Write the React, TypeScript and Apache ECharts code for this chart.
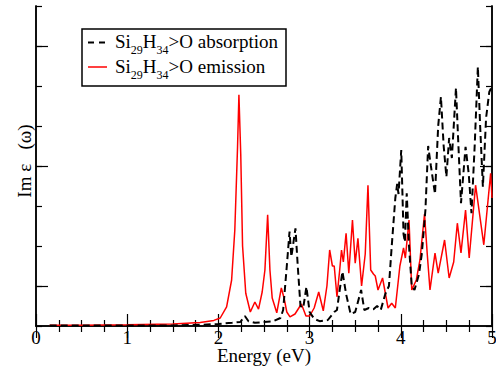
import { useEffect, useRef } from "react";
import * as echarts from "echarts";

const FONT = "'Liberation Serif', 'Times New Roman', Times, serif";

// Emission (red, solid)
const emissionEnergy = [
  0.15, 0.5, 1.0, 1.5, 1.8, 1.95, 2.02, 2.09, 2.145, 2.18, 2.21, 2.225, 2.245, 2.265, 2.3, 2.35, 2.4, 2.44,
  2.48, 2.51, 2.54, 2.565, 2.59, 2.64, 2.69, 2.72, 2.75, 2.785, 2.84, 2.91, 2.96, 3.0, 3.05, 3.1, 3.15, 3.19,
  3.22, 3.25, 3.27, 3.3, 3.33, 3.35, 3.37, 3.4, 3.43, 3.47, 3.5, 3.53, 3.57, 3.61, 3.64, 3.67, 3.7, 3.72,
  3.75, 3.8, 3.86, 3.9, 3.94, 3.99, 4.03, 4.05, 4.09, 4.12, 4.17, 4.21, 4.26, 4.29, 4.32, 4.36, 4.375, 4.41,
  4.48, 4.53, 4.58, 4.62, 4.66, 4.71, 4.75, 4.82, 4.91, 4.985, 5.0,
];
const emissionIm = [
  0.02, 0.02, 0.03, 0.05, 0.09, 0.14, 0.2, 0.48, 1.15, 2.4, 4.48, 5.78, 4.3, 2.0, 0.82, 0.35, 0.6, 0.42,
  0.85, 1.4, 2.78, 1.4, 0.7, 0.33, 0.95, 0.7, 0.35, 0.23, 0.3, 0.55, 0.25, 0.25, 0.45, 0.85, 0.38, 1.0,
  1.9, 1.5, 1.5, 0.73, 1.4, 1.9, 1.6, 2.32, 1.32, 2.65, 1.57, 2.19, 1.0, 1.8, 3.52, 1.4, 1.3, 1.25,
  0.9, 1.2, 0.45, 0.57, 0.45, 1.5, 1.95, 1.7, 2.65, 0.9, 1.15, 1.65, 2.8, 1.8, 0.9, 1.57, 1.82, 1.32,
  2.15, 1.2, 1.6, 2.57, 1.83, 2.9, 1.7, 3.52, 2.03, 3.82, 3.2,
];

// Absorption (black, dashed)
const absorptionEnergy = [
  0.15, 1.0, 1.5, 1.8, 2.0, 2.15, 2.24, 2.29, 2.33, 2.4, 2.5, 2.6, 2.68, 2.71, 2.75, 2.78, 2.8, 2.845,
  2.87, 2.9, 2.93, 2.965, 3.0, 3.05, 3.11, 3.2, 3.27, 3.3, 3.33, 3.36, 3.4, 3.45, 3.5, 3.565, 3.6, 3.65,
  3.7, 3.74, 3.78, 3.83, 3.87, 3.9, 3.94, 3.96, 3.975, 4.005, 4.03, 4.045, 4.065, 4.09, 4.12, 4.15, 4.2,
  4.23, 4.27, 4.3, 4.33, 4.375, 4.41, 4.44, 4.47, 4.5, 4.53, 4.56, 4.605, 4.63, 4.66, 4.71, 4.745, 4.775,
  4.81, 4.845, 4.87, 4.9, 4.935, 4.97, 5.0,
];
const absorptionIm = [
  0.01, 0.01, 0.015, 0.03, 0.05, 0.08, 0.1, 0.25, 0.12, 0.08, 0.1, 0.12, 0.2, 0.4, 1.5, 2.36, 1.73, 2.44,
  1.5, 0.5, 0.45, 0.98, 0.35, 0.18, 0.12, 0.15, 0.35, 0.4, 0.9, 1.36, 0.8, 0.3, 0.35, 0.9, 0.4, 0.45,
  0.42, 0.5, 0.4, 0.8, 1.0, 1.98, 3.2, 3.55, 3.3, 4.4, 2.3, 2.1, 3.32, 2.0, 1.0, 0.9, 1.3,
  1.8, 2.9, 4.5, 4.0, 3.3, 5.0, 5.73, 4.5, 3.73, 4.7, 4.2, 5.95, 4.6, 3.07, 4.48, 3.8, 2.82,
  4.5, 6.48, 5.0, 3.48, 5.2, 5.85, 6.0,
];

const xTickValues = [0, 1, 2, 3, 4, 5];
const yMajorTicks = [1, 4, 7];

const xLabel = "Energy (eV)";
const yLabel = "Im ε\u00a0\u00a0 (ω)";
// legend pieces: [text, isSubscript]
const absorptionPieces: [string, boolean][] = [["Si", false], ["29", true], ["H", false], ["34", true], [">O absorption", false]];
const emissionPieces: [string, boolean][] = [["Si", false], ["29", true], ["H", false], ["34", true], [">O emission", false]];

const MAIN_SIZE = 19;
const SUB_SIZE = 12;

export default function App() {
  const ref = useRef<HTMLDivElement>(null);
  useEffect(() => {
    const chart = echarts.init(ref.current!, null, { renderer: "svg" });
    const black = "#000";
    const ctx = document.createElement("canvas").getContext("2d")!;
    const measure = (t: string, size: number) => {
      ctx.font = `${size}px ${FONT}`;
      return ctx.measureText(t).width;
    };
    const legendRow = (pieces: [string, boolean][], x0: number, yc: number) => {
      let x = x0;
      return pieces.map(([t, sub]) => {
        const size = sub ? SUB_SIZE : MAIN_SIZE;
        const el = {
          type: "text",
          x,
          y: sub ? yc + 9 : yc,
          style: { text: t, font: `${size}px ${FONT}`, fill: black, align: "left", verticalAlign: "middle" },
          z: 101,
        };
        x += measure(t, size);
        return el;
      });
    };
    const line = { lineStyle: { color: black, width: 1.5 } };
    const xBase = (position: string, labels: boolean) => ({
      type: "value",
      min: xTickValues[0],
      max: xTickValues[xTickValues.length - 1],
      interval: 1,
      position,
      axisLine: { show: true, ...line },
      axisTick: { show: true, inside: true, length: 12, lineStyle: { color: black, width: 1.2 } },
      minorTick: { show: true, splitNumber: 4, length: 6, lineStyle: { color: black, width: 1.2 } },
      splitLine: { show: false },
      minorSplitLine: { show: false },
      axisLabel: {
        show: labels,
        fontFamily: FONT,
        fontSize: MAIN_SIZE,
        lineHeight: 14,
        color: black,
        margin: 4,
        hideOverlap: false,
      },
    });
    const yBase = (position: string, major: boolean) => ({
      type: "value",
      min: 0,
      max: 8,
      interval: 1,
      position,
      axisLine: { show: true, ...line },
      axisTick: major
        ? { show: true, inside: true, length: 12, customValues: yMajorTicks, lineStyle: { color: black, width: 1.2 } }
        : { show: true, inside: true, length: 6, lineStyle: { color: black, width: 1.2 } },
      splitLine: { show: false },
      axisLabel: { show: false },
    });
    chart.setOption({
      animation: false,
      backgroundColor: "#fff",
      textStyle: { fontFamily: FONT },
      grid: { left: 36, right: 4, top: 6, bottom: 42, containLabel: false, outerBoundsMode: "none" },
      xAxis: [
        {
          ...xBase("bottom", true),
          name: xLabel,
          nameLocation: "middle",
          nameGap: 21,
          nameMoveOverlap: false,
          nameTextStyle: { fontFamily: FONT, fontSize: MAIN_SIZE, lineHeight: 16, color: black },
        },
        xBase("top", false),
      ],
      yAxis: [
        yBase("left", false),
        yBase("left", true),
        yBase("right", false),
        yBase("right", true),
      ],
      series: [
        {
          type: "line",
          name: "Si29H34>O emission",
          data: emissionEnergy.map((x, i) => [x, emissionIm[i]]),
          showSymbol: false,
          lineStyle: { color: "#ff0000", width: 1.5 },
          itemStyle: { color: "#ff0000" },
          z: 2,
        },
        {
          type: "line",
          name: "Si29H34>O absorption",
          data: absorptionEnergy.map((x, i) => [x, absorptionIm[i]]),
          showSymbol: false,
          lineStyle: { color: black, width: 2, type: [7, 4] },
          itemStyle: { color: black },
          z: 3,
        },
      ],
      graphic: [
        {
          type: "text",
          x: 24.5,
          y: 161,
          rotation: Math.PI / 2,
          style: { text: yLabel, font: `${MAIN_SIZE}px ${FONT}`, fill: black, align: "center", verticalAlign: "middle" },
          z: 50,
        },
        {
          type: "rect",
          shape: { x: 82, y: 29, width: 204, height: 57 },
          style: { fill: "#fff", stroke: black, lineWidth: 1.5 },
          z: 100,
        },
        {
          type: "line",
          shape: { x1: 88, y1: 42.5, x2: 107, y2: 42.5 },
          style: { stroke: black, lineWidth: 2, lineDash: [6, 5] },
          z: 101,
        },
        {
          type: "line",
          shape: { x1: 88, y1: 67, x2: 107, y2: 67 },
          style: { stroke: "#ff0000", lineWidth: 1.5 },
          z: 101,
        },
        ...legendRow(absorptionPieces, 115, 41),
        ...legendRow(emissionPieces, 115, 66),
      ],
    });
    return () => chart.dispose();
  }, []);
  return <div ref={ref} style={{ position: "fixed", left: 0, top: 0, width: 496, height: 368 }} />;
}
